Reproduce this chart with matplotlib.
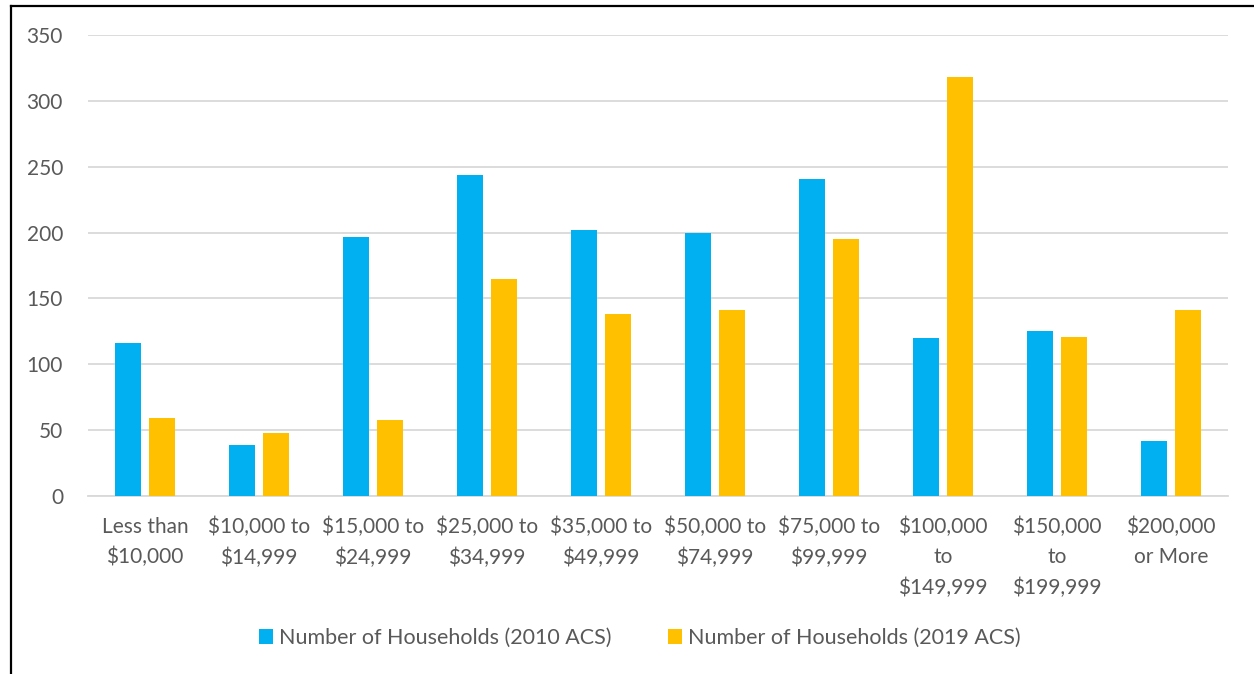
import matplotlib
matplotlib.use("Agg")
import matplotlib.pyplot as plt
import numpy as np
from matplotlib.lines import Line2D

categories = ["Less than\n$10,000", "$10,000 to\n$14,999", "$15,000 to\n$24,999",
              "$25,000 to\n$34,999", "$35,000 to\n$49,999", "$50,000 to\n$74,999",
              "$75,000 to\n$99,999", "$100,000\nto\n$149,999", "$150,000\nto\n$199,999",
              "$200,000\nor More"]
hh_2010 = [116, 39, 197, 244, 202, 200, 241, 120, 125, 42]
hh_2019 = [59, 48, 58, 165, 138, 141, 195, 318, 121, 141]
series_names = ["Number of Households (2010 ACS)", "Number of Households (2019 ACS)"]
yticks = [0, 50, 100, 150, 200, 250, 300, 350]

BLUE = "#00B0F0"
ORANGE = "#FFC000"
GRAY = "#595959"

plt.rcParams['font.family'] = ['Lato', 'DejaVu Sans']

fig = plt.figure(figsize=(12.54, 6.74), dpi=100)
ax = fig.add_axes([88/1254, 1-496/674, (1228-88)/1254, (496-35)/674])

x = np.arange(len(categories))
w = 0.228
off = 0.145
ax.bar(x - off, hh_2010, width=w, color=BLUE, label=series_names[0], zorder=3)
ax.bar(x + off, hh_2019, width=w, color=ORANGE, label=series_names[1], zorder=3)

ax.set_xlim(-0.5, len(categories) - 0.5)
ax.set_ylim(0, 350)
ax.set_yticks(yticks)
ax.set_yticklabels([str(v) for v in yticks])
ax.set_xticks(x)
ax.set_xticklabels(categories, linespacing=1.62)
ax.tick_params(axis='both', length=0, labelsize=15, colors=GRAY)
ax.tick_params(axis='y', pad=18)
ax.tick_params(axis='x', pad=15)
ax.grid(axis='y', color='#D9D9D9', linewidth=1.3, zorder=0)
for s in ['top', 'right', 'left']:
    ax.spines[s].set_visible(False)
ax.spines['bottom'].set_color('#D9D9D9')
ax.spines['bottom'].set_linewidth(1.3)

leg = fig.legend(loc='center', bbox_to_anchor=(640/1254, 1-638/674), ncol=2,
                 frameon=False, fontsize=15.5, handlelength=0.65, handleheight=0.65,
                 handletextpad=0.3, columnspacing=2.6)
for t in leg.get_texts():
    t.set_color(GRAY)

# frame border lines (left and top)
fig.add_artist(Line2D([11/1254, 11/1254], [0, 1-6/674], transform=fig.transFigure,
                      color='black', linewidth=1.6))
fig.add_artist(Line2D([11/1254, 1], [1-6/674, 1-6/674], transform=fig.transFigure,
                      color='black', linewidth=1.6))

fig.savefig("out.png", dpi=100)
